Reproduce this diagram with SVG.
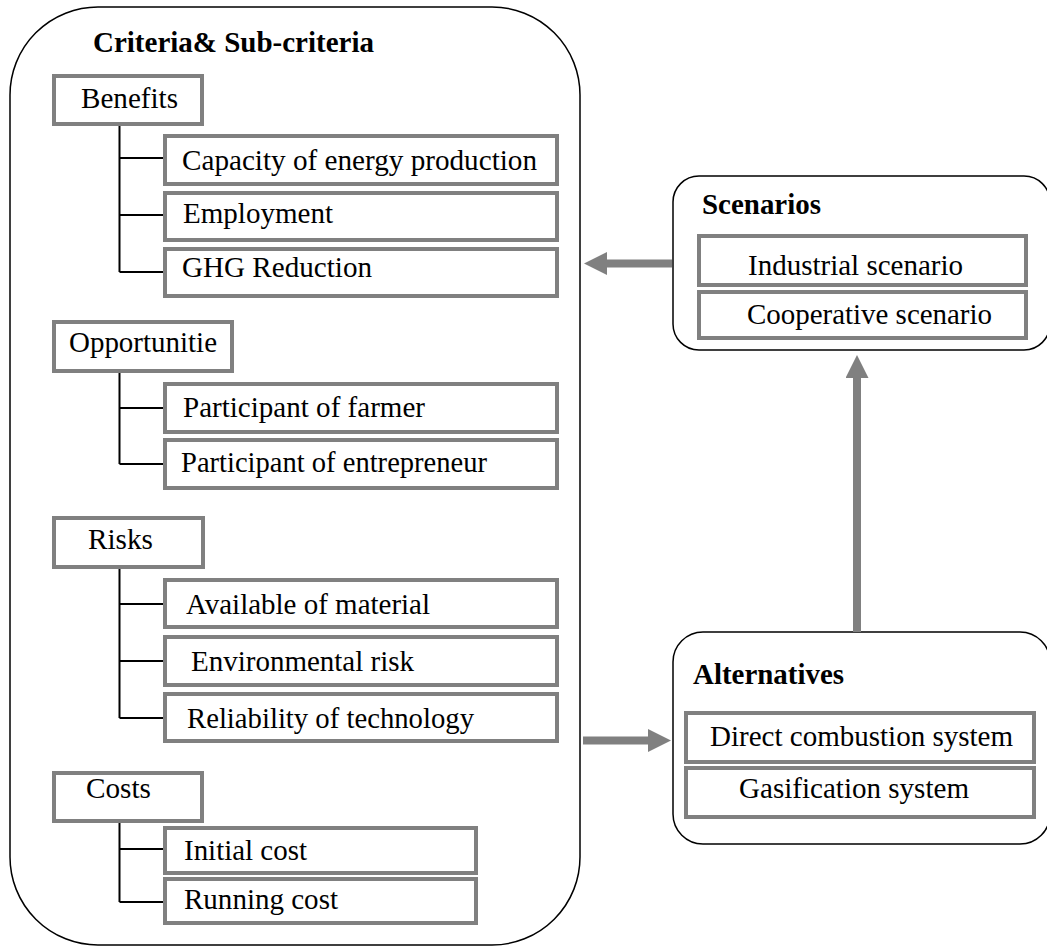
<svg xmlns="http://www.w3.org/2000/svg" width="1047" height="951" viewBox="0 0 1047 951" font-family="'Liberation Serif', 'DejaVu Serif', 'Times New Roman', serif">
  <style>
    .panel { fill: #ffffff; stroke: #000000; stroke-width: 1.5; }
    .item { fill: #ffffff; stroke: #808080; stroke-width: 4; }
    .tree { fill: none; stroke: #000000; stroke-width: 2; }
    .flow { fill: none; stroke: #808080; stroke-width: 8; }
    .label { font-size: 29px; fill: #000000; }
    .head { font-weight: bold; }
  </style>
  <defs>
    <marker id="arrowhead" markerUnits="userSpaceOnUse" markerWidth="24" markerHeight="24" viewBox="0 0 24 24" refX="1" refY="11.5" orient="auto">
      <path d="M0,0 L23,11.5 L0,23 Z" fill="#808080"/>
    </marker>
  </defs>

  <rect width="1047" height="951" fill="#ffffff"/>

  <!-- Criteria & sub-criteria panel -->
  <g id="criteria">
    <rect class="panel" x="10" y="7" width="570" height="938" rx="88" ry="88"/>
    <text class="label head" font-family="Liberation Serif, serif" x="93" y="52" textLength="281" lengthAdjust="spacingAndGlyphs">Criteria&amp; Sub-criteria</text>
  </g>

  <!-- Benefits -->
  <g id="benefits" font-family="Liberation Serif, serif">
    <rect class="item" x="54" y="76" width="148" height="48"/>
    <text class="label" x="81" y="108" textLength="97" lengthAdjust="spacingAndGlyphs">Benefits</text>
    <path class="tree" d="M119.5,126 V272 M119.5,158 H163 M119.5,215 H163 M119.5,272 H163"/>
    <rect class="item" x="165" y="136" width="392" height="48"/>
    <text class="label" x="182" y="170" textLength="355" lengthAdjust="spacingAndGlyphs">Capacity of energy production</text>
    <rect class="item" x="165" y="193" width="392" height="47"/>
    <text class="label" x="183" y="223" textLength="150" lengthAdjust="spacingAndGlyphs">Employment</text>
    <rect class="item" x="165" y="249" width="392" height="47"/>
    <text class="label" x="182" y="277" textLength="190" lengthAdjust="spacingAndGlyphs">GHG Reduction</text>
  </g>

  <!-- Opportunities -->
  <g id="opportunities" font-family="Liberation Serif, serif">
    <rect class="item" x="54" y="322" width="178" height="49"/>
    <text class="label" x="69" y="352" textLength="148" lengthAdjust="spacingAndGlyphs">Opportunitie</text>
    <path class="tree" d="M119.5,373 V464 M119.5,408 H163 M119.5,464 H163"/>
    <rect class="item" x="165" y="384" width="392" height="48"/>
    <text class="label" x="183" y="417" textLength="242" lengthAdjust="spacingAndGlyphs">Participant of farmer</text>
    <rect class="item" x="165" y="440" width="392" height="48"/>
    <text class="label" x="181" y="472" textLength="306" lengthAdjust="spacingAndGlyphs">Participant of entrepreneur</text>
  </g>

  <!-- Risks -->
  <g id="risks" font-family="Liberation Serif, serif">
    <rect class="item" x="54" y="518" width="149" height="49"/>
    <text class="label" x="88" y="549" textLength="65" lengthAdjust="spacingAndGlyphs">Risks</text>
    <path class="tree" d="M119.5,569 V718 M119.5,604 H163 M119.5,661 H163 M119.5,718 H163"/>
    <rect class="item" x="165" y="580" width="392" height="47"/>
    <text class="label" x="186" y="614" textLength="244" lengthAdjust="spacingAndGlyphs">Available of material</text>
    <rect class="item" x="165" y="637" width="392" height="48"/>
    <text class="label" x="191" y="671" textLength="223" lengthAdjust="spacingAndGlyphs">Environmental risk</text>
    <rect class="item" x="165" y="694" width="392" height="47"/>
    <text class="label" x="187" y="728" textLength="287" lengthAdjust="spacingAndGlyphs">Reliability of technology</text>
  </g>

  <!-- Costs -->
  <g id="costs" font-family="Liberation Serif, serif">
    <rect class="item" x="54" y="773" width="148" height="48"/>
    <text class="label" x="86" y="798" textLength="65" lengthAdjust="spacingAndGlyphs">Costs</text>
    <path class="tree" d="M119.5,823 V902 M119.5,849 H163 M119.5,902 H163"/>
    <rect class="item" x="165" y="828" width="311" height="45"/>
    <text class="label" x="184" y="860" textLength="123" lengthAdjust="spacingAndGlyphs">Initial cost</text>
    <rect class="item" x="165" y="879" width="311" height="44"/>
    <text class="label" x="184" y="909" textLength="154" lengthAdjust="spacingAndGlyphs">Running cost</text>
  </g>

  <!-- Scenarios -->
  <g id="scenarios" font-family="Liberation Serif, serif">
    <rect class="panel" x="673" y="176" width="377" height="174" rx="26" ry="26"/>
    <text class="label head" x="702" y="214" textLength="119" lengthAdjust="spacingAndGlyphs">Scenarios</text>
    <rect class="item" x="699" y="236" width="327" height="49"/>
    <text class="label" x="748" y="275" textLength="215" lengthAdjust="spacingAndGlyphs">Industrial scenario</text>
    <rect class="item" x="699" y="292" width="327" height="46"/>
    <text class="label" x="747" y="324" textLength="245" lengthAdjust="spacingAndGlyphs">Cooperative scenario</text>
  </g>

  <!-- Alternatives -->
  <g id="alternatives" font-family="Liberation Serif, serif">
    <rect class="panel" x="673" y="632" width="377" height="212" rx="30" ry="30"/>
    <text class="label head" x="693" y="684" textLength="151" lengthAdjust="spacingAndGlyphs">Alternatives</text>
    <rect class="item" x="686" y="713" width="348" height="49"/>
    <text class="label" x="710" y="746" textLength="303" lengthAdjust="spacingAndGlyphs">Direct combustion system</text>
    <rect class="item" x="686" y="768" width="348" height="49"/>
    <text class="label" x="739" y="798" textLength="230" lengthAdjust="spacingAndGlyphs">Gasification system</text>
  </g>

  <!-- Connectors -->
  <g id="connectors">
    <line class="flow" x1="672" y1="263.5" x2="606" y2="263.5" marker-end="url(#arrowhead)"/>
    <line class="flow" x1="583" y1="740.5" x2="649" y2="740.5" marker-end="url(#arrowhead)"/>
    <line class="flow" x1="857" y1="632" x2="857" y2="377" marker-end="url(#arrowhead)"/>
  </g>
</svg>
